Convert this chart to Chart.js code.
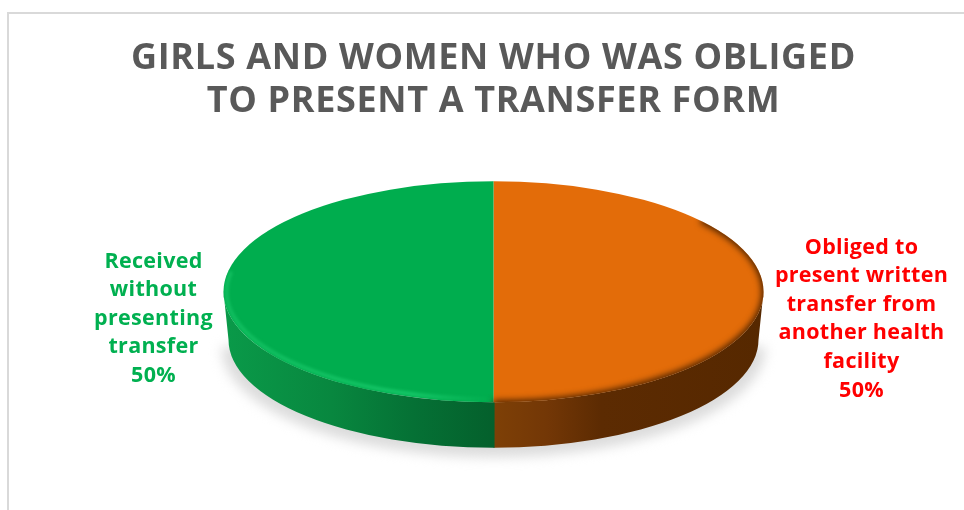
<!DOCTYPE html>
<html>
<head>
<meta charset="utf-8">
<title>Transfer form</title>
<script src="https://cdn.jsdelivr.net/npm/chart.js@4/dist/chart.umd.min.js"></script>
<style>
    html, body { margin: 0; padding: 0; background: #fff; overflow: hidden; }
    #frame { position: absolute; left: 7px; top: 12px; right: -4px; bottom: -4px;
             border-left: 2px solid #d9d9d9; border-top: 2px solid #d9d9d9; }
    #pieChart { position: absolute; left: 0; top: 0; }
</style>
</head>
<body>
<div id="frame"></div>
<canvas id="pieChart" width="964" height="510"></canvas>
<script>
const titleLines = ["GIRLS AND WOMEN WHO WAS OBLIGED", "TO PRESENT A TRANSFER FORM"];
const categories = ["Obliged to present written transfer from another health facility", "Received without presenting transfer"];
const shares = [50, 50];
const labelLines = [
    ["Obliged to", "present written", "transfer from", "another health", "facility"],
    ["Received", "without", "presenting", "transfer"]
];
const sliceColors = ["#e36c09", "#00ad4e"];
const labelColors = ["#ff0000", "#00b050"];

const TILT = 110.5 / 270;   // flattening of the pie into an ellipse
const DEPTH = 48;
const FOOT_INSET = 5;       // lower rim is slightly narrower, fake perspective

function sideGradient(ctx, i, cx, rx) {
    const g = ctx.createLinearGradient(cx - rx, 0, cx + rx, 0);
    if (i === 0) {
        g.addColorStop(0.5, "#7e4006");
        g.addColorStop(0.6, "#733706");
        g.addColorStop(0.7, "#5c2b02");
        g.addColorStop(1, "#562800");
    } else {
        g.addColorStop(0, "#0a9a49");
        g.addColorStop(0.2, "#08873f");
        g.addColorStop(0.35, "#057135");
        g.addColorStop(0.5, "#04602c");
    }
    return g;
}

// title tracking: the title box draws between beforeDraw and the datasets
const titleTracking = {
    id: "titleTracking",
    beforeDraw(chart) {
        chart.ctx.letterSpacing = "0.65px";
    }
};

// shadow and side wall go under the slices, then the slices are squashed
const pie3d = {
    id: "pie3d",
    beforeDatasetsDraw(chart) {
        const ctx = chart.ctx;
        ctx.letterSpacing = "0px";
        const arcs = chart.getDatasetMeta(0).data;
        const cx = arcs[0].x, cy = arcs[0].y, rx = arcs[0].outerRadius, ry = rx * TILT;

        ctx.save();
        ctx.filter = "blur(6px)";
        ctx.fillStyle = "#dcdcdc";
        ctx.beginPath();
        ctx.ellipse(cx, cy + DEPTH + 7, rx + 2, ry, 0, 0, Math.PI);
        ctx.closePath();
        ctx.fill();
        ctx.restore();

        arcs.forEach((arc, i) => {
            // small overlap so no light seam shows between the two walls
            const a0 = Math.max(arc.startAngle, 0) - (i > 0 ? 0.004 : 0);
            const a1 = Math.min(arc.endAngle, Math.PI);
            if (a1 <= a0) return;
            ctx.beginPath();
            ctx.ellipse(cx, cy, rx, ry, 0, a0, a1);
            ctx.ellipse(cx, cy + DEPTH, rx - FOOT_INSET, ry - 2.5, 0, a1, a0, true);
            ctx.closePath();
            ctx.fillStyle = sideGradient(ctx, i, cx, rx);
            ctx.fill();
        });

        ctx.save();
        ctx.translate(cx, cy);
        ctx.scale(1, TILT);
        ctx.translate(-cx, -cy);
    },
    afterDatasetsDraw(chart) {
        const ctx = chart.ctx;
        ctx.restore();

        const arc = chart.getDatasetMeta(0).data[0];
        const cx = arc.x, cy = arc.y, rx = arc.outerRadius, ry = rx * TILT;

        // bevel along the rim of the top face
        ctx.save();
        ctx.beginPath();
        ctx.ellipse(cx, cy, rx, ry, 0, 0, Math.PI * 2);
        ctx.clip();

        ctx.filter = "blur(3px)";
        ctx.lineWidth = 8;
        ctx.strokeStyle = "#4e2400";
        ctx.beginPath();
        ctx.ellipse(cx, cy, rx + 2, ry + 2, 0, -0.7, Math.PI / 2);
        ctx.stroke();

        ctx.filter = "blur(1.8px)";
        ctx.lineWidth = 4;
        const shine = ctx.createLinearGradient(cx - rx, 0, cx, 0);
        shine.addColorStop(0, "#10bd5f");
        shine.addColorStop(0.7, "#14c667");
        shine.addColorStop(1, "rgba(20,198,103,0)");
        ctx.strokeStyle = shine;
        ctx.beginPath();
        ctx.ellipse(cx, cy, rx - 3, ry - 3, 0, Math.PI / 2, Math.PI * 1.06);
        ctx.stroke();
        ctx.restore();
    }
};

// multi-line slice labels beside the pie
const sliceLabels = {
    id: "sliceLabels",
    afterDraw(chart) {
        const ctx = chart.ctx;
        const arcs = chart.getDatasetMeta(0).data;
        const spots = [
            { x: arcs[0].x + 368, y: 253.5 },
            { x: arcs[0].x - 340, y: 267.5 }
        ];
        ctx.save();
        ctx.font = "bold 21.5px 'Open Sans'";
        ctx.textAlign = "center";
        ctx.textBaseline = "alphabetic";
        ctx.letterSpacing = "0.3px";
        labelLines.forEach((lines, i) => {
            ctx.fillStyle = labelColors[i];
            lines.concat(shares[i] + "%").forEach((line, n) => {
                ctx.fillText(line, spots[i].x, spots[i].y + n * 28.65);
            });
        });
        ctx.restore();
    }
};

new Chart(document.getElementById("pieChart"), {
    type: "pie",
    data: {
        labels: categories,
        datasets: [{
            data: shares,
            backgroundColor: sliceColors,
            borderWidth: 0,
            radius: 270,
            clip: false
        }]
    },
    options: {
        responsive: false,
        animation: false,
        layout: { padding: { left: 23, bottom: 51 } },
        plugins: {
            legend: { display: false },
            tooltip: { enabled: false },
            title: {
                display: true,
                text: titleLines,
                color: "#595959",
                font: { family: "'Open Sans'", size: 36, weight: "bold", lineHeight: 43.5 / 36 },
                padding: { top: 36.5, bottom: 1 }
            }
        }
    },
    plugins: [titleTracking, pie3d, sliceLabels]
});
</script>
</body>
</html>
